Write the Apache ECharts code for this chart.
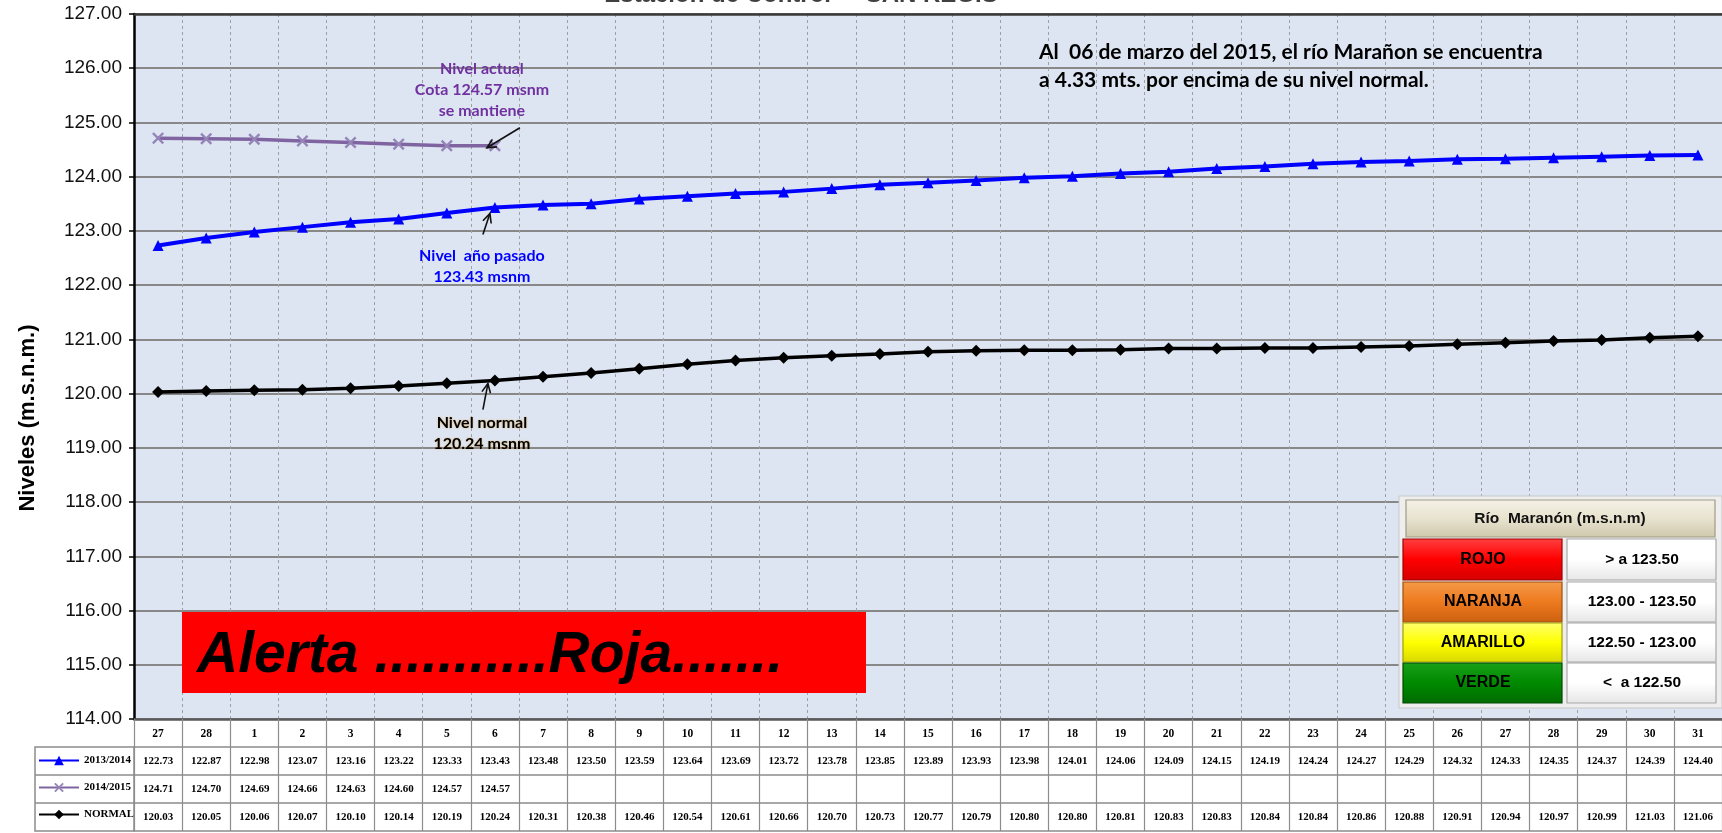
<!DOCTYPE html>
<html><head><meta charset="utf-8">
<script src="https://cdn.jsdelivr.net/npm/echarts@6/dist/echarts.min.js"></script>
<style>html,body{margin:0;padding:0;background:#fff}#c{width:1722px;height:833px}</style>
</head><body><div id="c"></div>
<script>
// ---- data ----
const days = ['27','28','1','2','3','4','5','6','7','8','9','10','11','12','13','14','15','16','17','18','19','20','21','22','23','24','25','26','27','28','29','30','31'];
const nivel1314 = [122.73,122.87,122.98,123.07,123.16,123.22,123.33,123.43,123.48,123.50,123.59,123.64,123.69,123.72,123.78,123.85,123.89,123.93,123.98,124.01,124.06,124.09,124.15,124.19,124.24,124.27,124.29,124.32,124.33,124.35,124.37,124.39,124.40];
const nivel1415 = [124.71,124.70,124.69,124.66,124.63,124.60,124.57,124.57];
const nivelNormal = [120.03,120.05,120.06,120.07,120.10,120.14,120.19,120.24,120.31,120.38,120.46,120.54,120.61,120.66,120.70,120.73,120.77,120.79,120.80,120.80,120.81,120.83,120.83,120.84,120.84,120.86,120.88,120.91,120.94,120.97,120.99,121.03,121.06];
const seriesNames = ['2013/2014','2014/2015','NORMAL'];
const yMin = 114, yMax = 127, yStep = 1;
const alertLevels = ['ROJO','NARANJA','AMARILLO','VERDE'];
const alertRanges = ['> a 123.50','123.00 - 123.50','122.50 - 123.00','<  a 122.50'];

const chart = echarts.init(document.getElementById('c'), null, {renderer:'canvas'});
const GRID = {left:134, top:14, width:1597, height:705};
const ROW = 28;
const serif = 'Liberation Serif';
const xPath = 'path://M0,1.4L1.4,0L5,3.6L8.6,0L10,1.4L6.4,5L10,8.6L8.6,10L5,6.4L1.4,10L0,8.6L3.6,5Z';

function tableAxis(idx, rowVals) {
  return {
    type:'category', data:days, gridIndex:0, position:'bottom', offset: ROW*idx,
    boundaryGap:true,
    axisLine:{show:true, lineStyle:{color: idx===0 ? '#5a5a5a' : '#8c8c8c', width: idx===0 ? 2.5 : 1.5}},
    axisTick:{show: rowVals !== 'none', interval:0, length:ROW, inside:false, lineStyle:{color:'#8c8c8c', width:1.2}},
    axisLabel:{show: rowVals !== 'none', interval:0, margin:9, fontFamily:serif, fontWeight:'bold', fontSize: idx===0 ? 11.5 : 11, color:'#000',
      formatter:(v,i)=> rowVals===null ? v : (rowVals==='none' ? '' : (i < rowVals.length && rowVals[i]!=null ? rowVals[i].toFixed(2) : ''))},
    splitLine:{show: idx===0, interval:0, lineStyle:{color:'#a0a0a0', width:1, type:[3,3]}},
    axisPointer:{show:false}
  };
}

const option = {
  animation:false,
  backgroundColor:'#ffffff',
  grid:[{left:GRID.left, top:GRID.top, width:GRID.width, height:GRID.height, backgroundColor:'#DCE5F1', show:true, borderWidth:0}],
  xAxis:[
    tableAxis(0, null),
    tableAxis(1, nivel1314),
    tableAxis(2, nivel1415),
    tableAxis(3, nivelNormal),
    tableAxis(4, 'none'),
    {type:'category', data:days, position:'top', axisLine:{show:true, lineStyle:{color:'#3a3a3a', width:2.5}}, axisTick:{show:false}, axisLabel:{show:false}, splitLine:{show:false}}
  ],
  yAxis:[{
    type:'value', min:yMin, max:yMax, interval:yStep,
    axisLine:{show:true, lineStyle:{color:'#000', width:2.5}},
    axisTick:{show:true, length:5, lineStyle:{color:'#000', width:1.5}},
    axisLabel:{margin:12, fontFamily:'Liberation Sans', fontSize:19, color:'#111', formatter:v=>v.toFixed(2)},
    splitLine:{show:true, lineStyle:{color:'#888888', width:1.8}}
  }],
  legend:{
    orient:'vertical', left:38, top:755, itemWidth:40, itemHeight:12, itemGap:ROW-12, padding:0,
    data:seriesNames, selectedMode:false,
    textStyle:{fontFamily:serif, fontWeight:'bold', fontSize:11, color:'#000'}
  },
  series:[
    {name:seriesNames[0], type:'line', xAxisIndex:0, yAxisIndex:0, data:nivel1314, symbol:'triangle', symbolSize:11,
     itemStyle:{color:'#0000FF'}, lineStyle:{color:'#0000FF', width:4}, z:4},
    {name:seriesNames[1], type:'line', xAxisIndex:0, yAxisIndex:0, data:nivel1415, symbol:xPath, symbolSize:12,
     itemStyle:{color:'#9584B8'}, lineStyle:{color:'#8064A2', width:3.5}, z:3},
    {name:seriesNames[2], type:'line', xAxisIndex:0, yAxisIndex:0, data:nivelNormal, symbol:'diamond', symbolSize:12,
     itemStyle:{color:'#000'}, lineStyle:{color:'#000', width:3.5}, z:4}
  ]
};
chart.setOption(option);

// ---- annotations, positioned through the chart scales ----
function px(i, v){ return chart.convertToPixel({xAxisIndex:0, yAxisIndex:0}, [i, v]); }
function arrow(x1,y1,x2,y2,color){
  const a = Math.atan2(y2-y1, x2-x1), L = 10, t = 0.45;
  return [
    {type:'line', shape:{x1,y1,x2,y2}, style:{stroke:color, lineWidth:1.6}, z:20},
    {type:'polyline', shape:{points:[[x2-L*Math.cos(a-t), y2-L*Math.sin(a-t)],[x2,y2],[x2-L*Math.cos(a+t), y2-L*Math.sin(a+t)]]}, style:{stroke:color, lineWidth:1.6, fill:null}, z:20}
  ];
}
function txt(x,y,text,opt){
  return {type:'text', x, y, z:20, style:Object.assign({text, textAlign:'center', textVerticalAlign:'middle', fontFamily:'Lato', fontWeight:'bold', fontSize:16, fill:'#000'}, opt||{})};
}
const g = [];
const iNow = nivel1415.length - 1;
// purple
let p = px(iNow, nivel1415[iNow]);
g.push(txt(p[0]-13, p[1]-77, 'Nivel actual', {fill:'#7030A0'}));
g.push(txt(p[0]-13, p[1]-56, 'Cota 124.57 msnm', {fill:'#7030A0'}));
g.push(txt(p[0]-13, p[1]-35, 'se mantiene', {fill:'#7030A0'}));
g.push(...arrow(p[0]+25, p[1]-18, p[0]-8, p[1]+2, '#111'));
// blue
p = px(iNow, nivel1314[iNow]);
g.push(txt(p[0]-13, p[1]+48, 'Nivel  año pasado', {fill:'#0000FF'}));
g.push(txt(p[0]-13, p[1]+69, '123.43 msnm', {fill:'#0000FF'}));
g.push(...arrow(p[0]-12, p[1]+27, p[0]-5, p[1]+6, '#111'));
// black
p = px(iNow, nivelNormal[iNow]);
g.push(txt(p[0]-13, p[1]+42, 'Nivel normal', {fill:'#000', textShadowColor:'rgba(230,150,40,0.7)', textShadowBlur:2}));
g.push(txt(p[0]-13, p[1]+63, '120.24 msnm', {fill:'#000', textShadowColor:'rgba(230,150,40,0.7)', textShadowBlur:2}));
g.push(...arrow(p[0]-12, p[1]+29, p[0]-7, p[1]+3, '#111'));

// y-axis title
g.push({type:'text', x:28, y:418, rotation:Math.PI/2, z:20, style:{text:'Niveles (m.s.n.m.)', textAlign:'center', textVerticalAlign:'middle', fontFamily:'Liberation Sans', fontWeight:'bold', fontSize:22, fill:'#000'}});

// cut title at top
g.push({type:'text', x:801, y:7, z:20, style:{text:'Estación de Control  -  SAN REGIS', textAlign:'center', textVerticalAlign:'bottom', fontFamily:'Liberation Sans', fontWeight:'bold', fontSize:24, fill:'#404040'}});

// note text
g.push({type:'text', x:1039, y:52, z:20, style:{text:'Al  06 de marzo del 2015, el río Marañon se encuentra', textVerticalAlign:'middle', fontFamily:'Lato', fontWeight:'bold', fontSize:21, fill:'#000'}});
g.push({type:'text', x:1039, y:80, z:20, style:{text:'a 4.33 mts. por encima de su nivel normal.', textVerticalAlign:'middle', fontFamily:'Lato', fontWeight:'bold', fontSize:21, fill:'#000'}});

// Alert box
g.push({type:'rect', shape:{x:182, y:612, width:684, height:81}, style:{fill:'#FF0000'}, z:15});
g.push({type:'text', x:197, y:656, z:16, style:{text:'Alerta ...........Roja.......', textVerticalAlign:'middle', fontFamily:'Liberation Sans', fontWeight:'bold', fontStyle:'italic', fontSize:57, fill:'#000'}});

// legend table on the right
function grad(c1,c2,c3){ return new echarts.graphic.LinearGradient(0,0,0,1,[{offset:0,color:c1},{offset:0.5,color:c2},{offset:1,color:c3}]); }
g.push({type:'rect', shape:{x:1399, y:496, width:323, height:212}, style:{fill:'#EEEEEE', stroke:'#C8C8C8', lineWidth:1}, z:15});
g.push({type:'rect', shape:{x:1406, y:500, width:309, height:37}, style:{fill:grad('#F4F1E6','#E8E3CF','#CFC8AE'), stroke:'#A09A84', lineWidth:1.2}, z:16});
g.push({type:'text', x:1560, y:519, z:17, style:{text:'Río  Maranón (m.s.n.m)', textAlign:'center', textVerticalAlign:'middle', fontFamily:'Liberation Sans', fontWeight:'bold', fontSize:15.5, fill:'#111'}});
const rowY = [539,582,623,663], rowH = [41,40,39,40];
const fills = [grad('#FF4040','#FF0000','#D40000'), grad('#F59A4A','#EE7A1E','#CC6010'), grad('#FFFF70','#FFFF00','#D8D800'), grad('#1AA01A','#008A00','#006A00')];
const strokes = ['#A00000','#A05010','#A0A000','#004A00'];
for (let k=0;k<alertLevels.length;k++){
  g.push({type:'rect', shape:{x:1403, y:rowY[k], width:159, height:rowH[k]}, style:{fill:fills[k], stroke:strokes[k], lineWidth:1.2}, z:16});
  g.push({type:'rect', shape:{x:1567, y:rowY[k], width:149, height:rowH[k]}, style:{fill:grad('#FFFFFF','#FFFFFF','#E6E6E6'), stroke:'#A8A8A8', lineWidth:1.2}, z:16});
  g.push({type:'text', x:1483, y:rowY[k]+rowH[k]/2, z:17, style:{text:alertLevels[k], textAlign:'center', textVerticalAlign:'middle', fontFamily:'Liberation Sans', fontWeight:'bold', fontSize:16, fill:'#000'}});
  g.push({type:'text', x:1642, y:rowY[k]+rowH[k]/2, z:17, style:{text:alertRanges[k], textAlign:'center', textVerticalAlign:'middle', fontFamily:'Liberation Sans', fontWeight:'bold', fontSize:15.5, fill:'#000'}});
}

// left part of the data table (row-name cells)
const tTop = GRID.top + GRID.height + ROW;
g.push({type:'rect', shape:{x:35, y:tTop, width:GRID.left-35, height:ROW*3}, style:{fill:null, stroke:'#8c8c8c', lineWidth:1.5}, z:10});
g.push({type:'line', shape:{x1:35, y1:tTop+ROW, x2:GRID.left, y2:tTop+ROW}, style:{stroke:'#8c8c8c', lineWidth:1.5}, z:10});
g.push({type:'line', shape:{x1:35, y1:tTop+2*ROW, x2:GRID.left, y2:tTop+2*ROW}, style:{stroke:'#8c8c8c', lineWidth:1.5}, z:10});

chart.setOption({graphic:g});
</script>
</body></html>
